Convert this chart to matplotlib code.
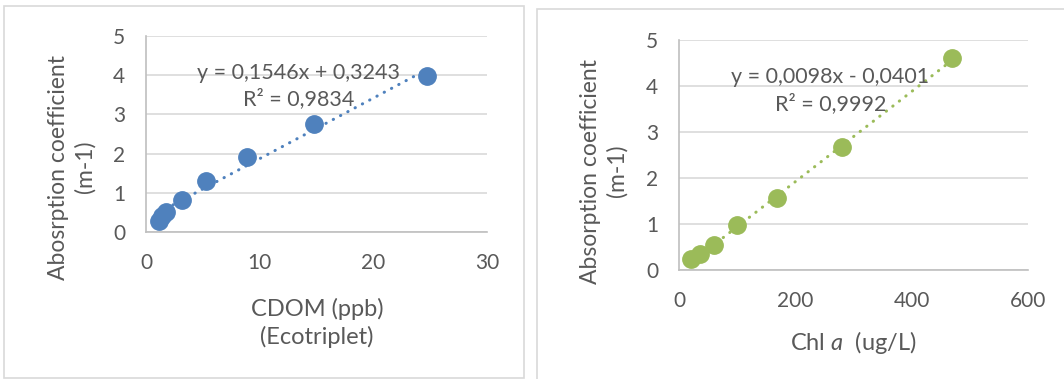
import matplotlib.pyplot as plt
from matplotlib.patches import Rectangle
import numpy as np

plt.rcParams['font.family'] = ['Lato', 'DejaVu Sans']
plt.rcParams['mathtext.fontset'] = 'custom'
plt.rcParams['mathtext.it'] = 'Lato:italic'
plt.rcParams['mathtext.rm'] = 'Lato'

# CDOM (ppb) vs absorption coefficient
cdom_x = [1.1, 1.4, 1.8, 3.2, 5.3, 8.9, 14.8, 24.7]
cdom_y = [0.28, 0.40, 0.50, 0.82, 1.30, 1.92, 2.75, 3.98]
cdom_slope, cdom_icpt = 0.1546, 0.3243

# Chl a (ug/L) vs absorption coefficient
chl_x = [20, 36, 60, 100, 168, 281, 470]
chl_y = [0.25, 0.34, 0.55, 0.98, 1.56, 2.68, 4.61]
chl_slope, chl_icpt = 0.0098, -0.0401

txt = '#595959'
grid = '#d9d9d9'

fig = plt.figure(figsize=(10.64, 3.79), dpi=100)
W, H = 1064, 379

def px(x0, y0, x1, y1):
    # pixel box (top-left origin) -> figure fraction rect
    return [x0 / W, 1 - y1 / H, (x1 - x0) / W, (y1 - y0) / H]

# chart frames
fig.patches.append(Rectangle((4 / W, 1 - 378 / H), 520 / W, 372 / H,
                             transform=fig.transFigure, fill=False,
                             ec=grid, lw=1.2))
fig.patches.append(Rectangle((537 / W, -0.05), 0.6, 1 - 9 / H + 0.05,
                             transform=fig.transFigure, fill=False,
                             ec=grid, lw=1.2))

def panel(rect, x, y, slope, icpt, color, xmax, xstep, eq, eqpos):
    ax = fig.add_axes(rect)
    ax.set_xlim(0, xmax)
    ax.set_ylim(0, 5)
    ax.set_xticks(np.arange(0, xmax + 1, xstep))
    ax.set_yticks(range(6))
    ax.yaxis.grid(True, color=grid, lw=1.2)
    ax.set_axisbelow(True)
    for s in ['top', 'right']:
        ax.spines[s].set_visible(False)
    for s in ['left', 'bottom']:
        ax.spines[s].set_color('#bfbfbf')
        ax.spines[s].set_linewidth(1.2)
    ax.tick_params(length=0, labelsize=15, colors=txt)
    ax.tick_params(axis='x', pad=15)
    ax.tick_params(axis='y', pad=15)
    fx = np.array([min(x), max(x)])
    ax.plot(fx, slope * fx + icpt, color=color, lw=2.2,
            dashes=(0.1, 2.6), dash_capstyle='round', zorder=2)
    ax.plot(x, y, 'o', color=color, ms=12.5, mec=color, zorder=3, clip_on=False)
    ax.text(eqpos[0], eqpos[1], eq, ha='center', va='center', fontsize=15.5,
            color=txt, linespacing=1.35, zorder=4)
    return ax

panel(px(146, 36, 487, 232), cdom_x, cdom_y, cdom_slope, cdom_icpt,
      '#4f81bd', 30, 10,
      'y = 0,1546x + 0,3243\nR² = 0,9834', (13.4, 3.72))
panel(px(679, 40, 1028, 270), chl_x, chl_y, chl_slope, chl_icpt,
      '#9bbb59', 600, 200,
      'y = 0,0098x - 0,0401\nR² = 0,9992', (260, 3.9))

# axis titles
ylab = dict(fontsize=16.5, color=txt, ha='center', va='center',
            rotation=90, linespacing=1.32)
xlab = dict(fontsize=17, color=txt, ha='center', va='center')
fig.text(72 / W, 1 - 167 / H, 'Abosrption coefficient\n(m-1)', **ylab)
fig.text(604 / W, 1 - 171 / H, 'Absorption coefficient\n(m-1)', **ylab)
fig.text(317 / W, 1 - 323 / H, 'CDOM (ppb)\n(Ecotriplet)', linespacing=1.3, **xlab)
fig.text(853 / W, 1 - 343 / H, r'Chl $\it{a}$  (ug/L)', **xlab)

fig.savefig('out.png', dpi=100)
